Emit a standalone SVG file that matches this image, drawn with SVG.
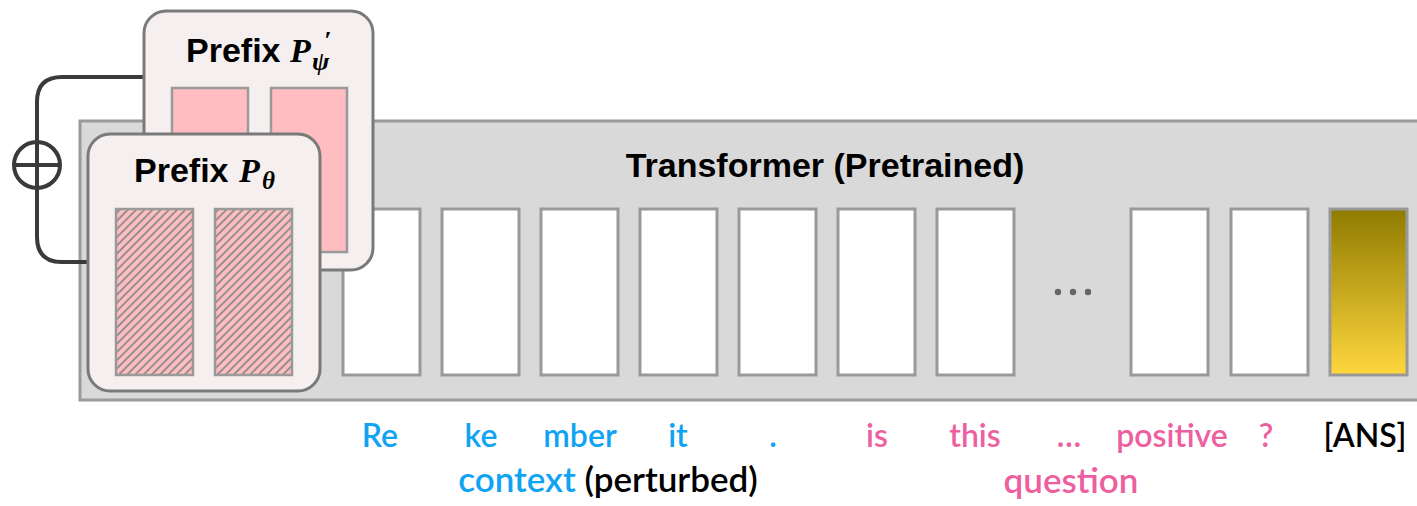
<svg xmlns="http://www.w3.org/2000/svg" width="1417" height="506" viewBox="0 0 1417 506">
  <defs>
    <linearGradient id="goldFill" x1="0" y1="0" x2="0" y2="1">
      <stop offset="0" stop-color="#8f7b00"/>
      <stop offset="1" stop-color="#ffd73e"/>
    </linearGradient>
    <pattern id="hatch" patternUnits="userSpaceOnUse" width="5.8" height="5.8" patternTransform="rotate(45)">
      <rect width="5.8" height="5.8" fill="#ffbcc1"/>
      <line x1="1" y1="0" x2="1" y2="5.8" stroke="#8c8c8c" stroke-width="1.8"/>
    </pattern>
    <style>
      .frame { fill: #d9d9d9; stroke: #9a9a9a; stroke-width: 3; }
      .token { fill: #ffffff; stroke: #999999; stroke-width: 3; }
      .ans { fill: url(#goldFill); stroke: #999999; stroke-width: 3; }
      .card { fill: #f5efef; stroke: #7a7a7a; stroke-width: 3; }
      .slot { fill: #ffbcc1; stroke: #9a9a9a; stroke-width: 2.5; }
      .slot-h { fill: url(#hatch); stroke: #9a9a9a; stroke-width: 2.5; }
      .wire { fill: none; stroke: #3a3a3a; stroke-width: 4; }
      .head { font-family: "Liberation Sans", Arial, sans-serif; font-weight: bold; font-size: 34px; fill: #000; }
      .math { font-family: "Liberation Serif", "Times New Roman", serif; font-weight: bold; font-style: italic; }
      .word { font-family: Lato, "Noto Sans", sans-serif; font-weight: 600; font-size: 32px; text-anchor: middle; }
      .big { font-size: 35px; }
      .blue { fill: #0fa3f4; }
      .pink { fill: #ee5f9f; }
      .ink { fill: #000; }
    </style>
  </defs>

  <!-- pretrained transformer body -->
  <g id="transformer">
    <rect class="frame" x="80" y="121" width="1345" height="279"/>
    <text class="head" x="825" y="177" text-anchor="middle">Transformer (Pretrained)</text>
  </g>

  <!-- token slots -->
  <g id="tokens">
    <rect class="token" x="343" y="209" width="77" height="166"/>
    <rect class="token" x="442" y="209" width="77" height="166"/>
    <rect class="token" x="541" y="209" width="77" height="166"/>
    <rect class="token" x="640" y="209" width="77" height="166"/>
    <rect class="token" x="739" y="209" width="77" height="166"/>
    <rect class="token" x="838" y="209" width="77" height="166"/>
    <rect class="token" x="937" y="209" width="77" height="166"/>
    <rect class="token" x="1131" y="209" width="77" height="166"/>
    <rect class="token" x="1231" y="209" width="77" height="166"/>
    <rect class="ans" x="1330" y="209" width="77" height="166"/>
    <g fill="#666666">
      <circle cx="1058" cy="292" r="3.2"/>
      <circle cx="1073" cy="292" r="3.2"/>
      <circle cx="1088" cy="292" r="3.2"/>
    </g>
  </g>

  <!-- sum of the two prefixes -->
  <g id="connectors">
    <path class="wire" d="M 144 77 H 62 Q 37 77 37 102 V 237 Q 37 262 62 262 H 88"/>
    <circle class="wire" cx="37" cy="165" r="23"/>
    <line class="wire" x1="14" y1="165" x2="60" y2="165"/>
    <line class="wire" x1="37" y1="142" x2="37" y2="188"/>
  </g>

  <!-- tuned prefix (back) -->
  <g id="prefix-psi">
    <rect class="card" x="144" y="11" width="229" height="259" rx="22"/>
    <text class="head" x="186" y="62">Prefix <tspan class="math" x="290">P</tspan><tspan class="math" x="312" y="70" font-size="26">ψ</tspan><tspan class="math" x="324" y="49" font-size="26" font-style="normal">′</tspan></text>
    <rect class="slot" x="172" y="88" width="76" height="164"/>
    <rect class="slot" x="271" y="88" width="76" height="164"/>
  </g>

  <!-- frozen prefix (front) -->
  <g id="prefix-theta">
    <rect class="card" x="88" y="134" width="232" height="257" rx="22"/>
    <text class="head" x="134" y="182">Prefix <tspan class="math" x="239">P</tspan><tspan class="math" x="262" y="189" font-size="25">θ</tspan></text>
    <rect class="slot-h" x="116" y="209" width="77" height="166"/>
    <rect class="slot-h" x="215" y="209" width="77" height="166"/>
  </g>

  <!-- input words -->
  <g id="labels">
    <text class="word blue" x="380" y="447">Re</text>
    <text class="word blue" x="481" y="447">ke</text>
    <text class="word blue" x="580" y="447">mber</text>
    <text class="word blue" x="678" y="447">it</text>
    <text class="word blue" x="773" y="447">.</text>
    <text class="word pink" x="877" y="447">is</text>
    <text class="word pink" x="975" y="447">this</text>
    <text class="word pink" x="1069" y="447">…</text>
    <text class="word pink" x="1172" y="447">positive</text>
    <text class="word pink" x="1266" y="447">?</text>
    <text class="word ink" x="1365" y="447">[ANS]</text>
    <text class="word big" x="608" y="492"><tspan class="blue">context</tspan><tspan class="ink"> (perturbed)</tspan></text>
    <text class="word big pink" x="1071" y="493">question</text>
  </g>
</svg>
